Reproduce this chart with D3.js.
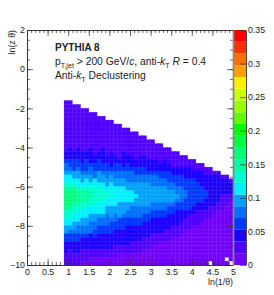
<!DOCTYPE html>
<html><head><meta charset="utf-8">
<style>html,body{margin:0;padding:0;background:#fff}svg{display:block}text{font-family:"Liberation Sans",Arial,sans-serif;fill:#222}</style>
<script src="https://cdn.jsdelivr.net/npm/d3@7"></script></head><body><div id="c"></div>
<script>
// Cell values in units of 0.001; one row per 0.2 in ln(z theta), from -1.6 downward; one entry per 0.1 in ln(1/theta), from 0.9.
const r00=[26,26];
const r01=[26,26,26,26];
const r02=[26,26,26,26,26,26];
const r03=[26,26,26,26,26,26,26,26];
const r04=[26,26,26,26,26,26,26,26,26,26];
const r05=[26,26,26,26,26,26,26,26,26,26,26,26];
const r06=[26,26,26,26,26,26,26,26,26,26,26,26,26,26];
const r07=[26,26,26,26,26,26,26,26,26,26,26,26,26,26,26,26];
const r08=[26,26,26,26,26,26,26,26,26,26,26,26,26,26,26,26,26,26];
const r09=[26,26,26,26,26,26,26,26,26,26,26,26,26,26,26,26,26,26,26,26];
const r10=[26,26,26,26,26,26,26,26,26,26,26,26,26,26,26,26,26,26,26,26,26,26];
const r11=[26,26,26,26,26,26,26,26,26,26,26,26,26,26,26,26,26,26,26,26,26,26,26,26];
const r12=[26,44,26,44,26,26,44,26,26,44,26,26,26,26,26,26,26,26,26,26,26,26,26,26,26,26];
const r13=[44,44,44,44,44,44,44,26,44,44,26,44,26,26,44,26,26,26,26,26,26,26,26,26,26,26,26,26];
const r14=[44,44,44,44,44,44,44,44,44,44,44,44,44,26,44,44,44,26,44,44,26,26,26,26,26,26,26,26,26,26];
const r15=[62,62,62,62,44,62,44,44,62,44,44,44,44,44,44,44,44,44,44,44,44,44,44,26,44,26,26,26,26,26,26,26];
const r16=[79,62,62,62,62,62,62,62,62,62,62,44,62,62,44,62,44,44,44,44,44,44,44,44,44,44,26,26,26,26,26,26,26,26];
const r17=[79,79,62,79,62,62,79,62,62,62,62,62,62,62,62,62,62,62,62,62,44,44,44,44,44,44,44,44,44,44,44,26,26,26,26,26];
const r18=[96,96,96,96,79,79,79,79,96,79,79,79,79,79,79,79,79,62,62,62,62,62,62,62,62,62,44,44,44,44,44,44,44,44,26,26,26,26];
const r19=[114,114,96,96,96,96,96,79,96,96,79,96,79,79,79,79,79,79,79,79,79,79,79,62,62,62,62,62,62,44,44,44,44,44,44,44,44,44,26,26];
const r20=[114,114,114,114,96,114,96,114,96,96,96,96,96,96,96,79,79,79,79,79,79,79,79,79,79,62,62,62,62,62,62,62,44,44,44,44,44,44,44,44,26];
const r21=[131,131,131,114,114,114,114,114,114,114,96,114,96,96,96,96,96,96,96,96,96,79,79,79,79,79,79,62,62,62,62,62,62,44,44,44,44,44,44,44,44];
const r22=[149,149,149,131,131,131,131,131,131,114,114,114,114,114,114,96,96,96,96,96,96,96,96,96,96,79,79,79,79,62,62,62,62,62,44,44,44,44,44,44,44];
const r23=[166,166,166,149,149,149,149,131,131,131,131,114,114,114,114,114,114,96,96,96,96,96,96,96,96,96,96,79,79,79,62,62,62,62,62,44,44,44,44,44,44];
const r24=[166,166,166,149,149,149,149,131,131,131,131,131,114,114,114,114,114,114,96,96,96,96,96,96,96,96,96,96,79,79,62,62,62,62,62,44,44,44,26,26,26];
const r25=[166,166,166,149,149,149,131,131,131,131,114,114,114,114,114,114,114,96,96,96,96,96,96,96,96,96,96,79,79,62,62,62,62,62,44,44,44,44,26,26,26];
const r26=[166,166,149,149,131,131,131,131,114,114,114,114,114,96,96,96,96,96,96,96,96,79,79,79,79,79,79,62,62,62,62,62,44,44,44,44,44,26,26,26,10];
const r27=[149,149,131,131,131,114,114,114,114,114,96,96,96,96,96,96,79,79,79,79,79,79,79,79,79,62,62,62,62,62,62,44,44,44,44,26,26,26,26,10,10];
const r28=[131,131,131,114,114,114,114,114,114,114,96,96,96,96,96,79,79,79,79,79,79,62,62,62,62,62,62,44,44,44,44,44,26,26,26,26,26,10,10,10,10];
const r29=[131,131,114,114,114,114,96,96,96,96,79,96,79,96,79,79,79,79,79,62,62,62,62,62,62,44,44,44,44,44,26,26,26,26,26,26,10,10,10,10,10];
const r30=[114,114,114,114,96,96,96,96,79,79,79,79,79,62,62,62,62,62,62,62,62,44,44,44,44,44,44,44,44,26,26,26,26,26,10,10,10,10,10,10,10];
const r31=[114,114,96,96,96,96,79,79,79,79,79,62,62,62,62,62,62,62,62,44,44,44,44,44,44,44,44,44,26,26,26,26,26,10,10,10,10,10,10,10,10];
const r32=[96,96,96,79,79,79,79,79,62,62,62,62,62,62,62,44,44,44,44,44,44,44,44,44,44,44,26,26,26,26,26,10,10,10,10,10,10,10,10,10,10];
const r33=[96,79,79,79,79,79,79,62,62,62,62,62,44,44,44,44,44,44,44,44,44,44,44,44,26,26,26,26,26,10,10,10,10,10,10,10,10,10,10,10,10];
const r34=[62,62,62,62,62,62,44,62,44,44,44,44,44,44,44,44,44,44,44,44,44,26,26,26,26,26,26,26,10,10,10,10,10,10,10,10,10,10,10,10,10];
const r35=[62,62,62,62,44,44,44,44,44,44,44,44,44,44,44,44,44,44,44,26,26,26,26,26,26,26,10,10,10,10,10,10,10,10,10,10,10,10,10,10,10];
const r36=[44,44,44,44,44,44,44,44,44,44,44,44,44,44,44,44,26,26,26,26,26,26,26,10,10,10,10,10,10,10,10,10,10,10,10,10,10,10,10,10,10];
const r37=[44,44,44,44,44,44,44,44,44,44,44,44,26,26,26,26,26,26,26,26,26,10,10,10,10,10,10,10,10,10,10,10,10,10,10,10,10,10,10,10,10];
const r38=[44,26,44,44,26,26,26,26,26,26,26,26,26,26,26,26,26,26,26,10,10,10,10,10,10,10,10,10,10,10,10,10,10,10,10,10,10,10,10,10,10];
const r39=[26,26,26,26,26,26,26,26,26,26,26,26,26,10,10,10,10,10,10,10,10,10,10,10,10,10,10,10,10,10,10,10,10,10,10,10,10,10,10,10,10];
const r40=[26,26,26,26,26,26,10,10,10,10,10,10,10,10,10,10,10,10,10,10,10,10,10,10,10,10,10,10,10,10,10,10,10,10,10,10,10,10,10,0,10];
const r41=[26,26,26,26,10,10,10,10,10,10,10,10,10,10,10,10,10,10,10,10,10,10,10,10,10,10,10,10,10,10,10,10,10,10,10,0,10,10,10,10,0];
const zRows=[r00,r01,r02,r03,r04,r05,r06,r07,r08,r09,r10,r11,r12,r13,r14,r15,r16,r17,r18,r19,r20,r21,r22,r23,r24,r25,r26,r27,r28,r29,r30,r31,r32,r33,r34,r35,r36,r37,r38,r39,r40,r41];

const palette=["#7000fa","#5000ff","#1c00ff","#0038ff","#0070ff","#00a0ff","#00f0ff","#00ffd0","#00ffa0","#00ff78",
"#00ff40","#00ff00","#60ff00","#99ff00","#ccff00","#ffee00","#ffa000","#ff7000","#ff3000","#ff0000"];
const xMajor=[0,0.5,1,1.5,2,2.5,3,3.5,4,4.5,5];
const yMajor=[-10,-8,-6,-4,-2,0,2];
const zMajor=[0,0.05,0.1,0.15,0.2,0.25,0.3,0.35];

const W=274,H=295,L=27,R=233,T=30,B=265,CR=246;
const x=d3.scaleLinear().domain([0,5]).range([L,R]);
const y=d3.scaleLinear().domain([-10,2]).range([B,T]);
const zy=d3.scaleLinear().domain([0,0.35]).range([B,T]);
const color=d3.scaleQuantize().domain([0,0.35]).range(palette);
const svg=d3.select("#c").append("svg").attr("width",W).attr("height",H);

const cells=zRows.flatMap((row,i)=>row.map((v,j)=>({i,j,v}))).filter(d=>d.v>0);
svg.append("g").selectAll("rect").data(cells).join("rect")
 .attr("x",d=>x(0.9+d.j*0.1)).attr("width",d=>x(0.1)-x(0))
 .attr("y",d=>y(-1.6-d.i*0.2)).attr("height",d=>y(-0.2)-y(0))
 .attr("fill",d=>color(d.v/1000)).attr("stroke",d=>color(d.v/1000)).attr("stroke-width",0.3);

const zBands=d3.range(palette.length);
svg.append("g").selectAll("rect").data(zBands).join("rect")
 .attr("x",R+1).attr("width",CR-R-1)
 .attr("y",d=>zy((d+1)*0.0175)).attr("height",d=>zy(d*0.0175)-zy((d+1)*0.0175))
 .attr("fill",d=>palette[d]);

const minor=(arr,n)=>d3.range(0,(arr.length-1)*n+1).map(k=>arr[0]+(arr[1]-arr[0])*k/n);
const xMinor=minor(xMajor,5), yMinor=minor(yMajor,4);
function place(axis,tx,ty,col,dw){const g=svg.append("g").attr("transform",`translate(${tx},${ty})`).call(axis);
 g.attr("font-family",null).attr("font-size",null);g.selectAll("text").style("font-size","8.8px");
 g.select(".domain").attr("stroke",col||"#333").attr("stroke-width",dw||0.9);
 g.selectAll("line").attr("stroke","#333").attr("stroke-width",0.7);return g;}
const none=()=>"";
place(d3.axisBottom(x).tickValues(xMinor).tickSize(-3).tickSizeOuter(0).tickFormat(none),0,B);
place(d3.axisBottom(x).tickValues(xMajor).tickSize(-6).tickSizeOuter(0).tickPadding(3.6).tickFormat(d=>d),0,B);
place(d3.axisTop(x).tickValues(xMinor).tickSize(-3).tickSizeOuter(0).tickFormat(none),0,T);
place(d3.axisTop(x).tickValues(xMajor).tickSize(-6).tickSizeOuter(0).tickFormat(none),0,T);
place(d3.axisLeft(y).tickValues(yMinor).tickSize(-3).tickSizeOuter(0).tickFormat(none),L,0);
place(d3.axisLeft(y).tickValues(yMajor).tickSize(-6).tickSizeOuter(0).tickPadding(2).tickFormat(d3.format("d")),L,0);
place(d3.axisRight(y).tickValues(yMinor).tickSize(-3).tickSizeOuter(0).tickFormat(none),R,0,"#888",1.4);
place(d3.axisRight(y).tickValues(yMajor).tickSize(-6).tickSizeOuter(0).tickFormat(none),R,0,"#888",1.4);
place(d3.axisRight(zy).tickValues(zMajor).tickSize(-6).tickSizeOuter(0).tickPadding(2).tickFormat(d=>d),CR,0);

function label(xp,yp,fs,w){return svg.append("text").attr("x",xp).attr("y",yp).style("font-size",fs+"px").style("font-weight",w||"normal");}
label(55,51,10,"bold").text("PYTHIA 8");
const t2=label(55,65,10.3);
t2.append("tspan").text("p");
t2.append("tspan").attr("dy",2.5).style("font-size","7.2px").text("T,jet");
t2.append("tspan").attr("dy",-2.5).text(" > 200 GeV/");
t2.append("tspan").style("font-style","italic").text("c");
t2.append("tspan").text(", anti-");
t2.append("tspan").style("font-style","italic").text("k");
t2.append("tspan").attr("dy",2.5).style("font-size","7.2px").text("T");
t2.append("tspan").attr("dy",-2.5).text(" ");
t2.append("tspan").style("font-style","italic").text("R");
t2.append("tspan").text(" = 0.4");
const t3=label(55,79,10.3);
t3.append("tspan").text("Anti-");
t3.append("tspan").style("font-style","italic").text("k");
t3.append("tspan").attr("dy",2.5).style("font-size","7.2px").text("T");
t3.append("tspan").attr("dy",-2.5).text(" Declustering");
label(233,285,8.8).attr("text-anchor","end").text("ln(1/θ)");
svg.append("text").attr("transform","translate(15,30) rotate(-90)").attr("text-anchor","end").style("font-size","8.8px").text("ln(z θ)");
</script></body></html>
